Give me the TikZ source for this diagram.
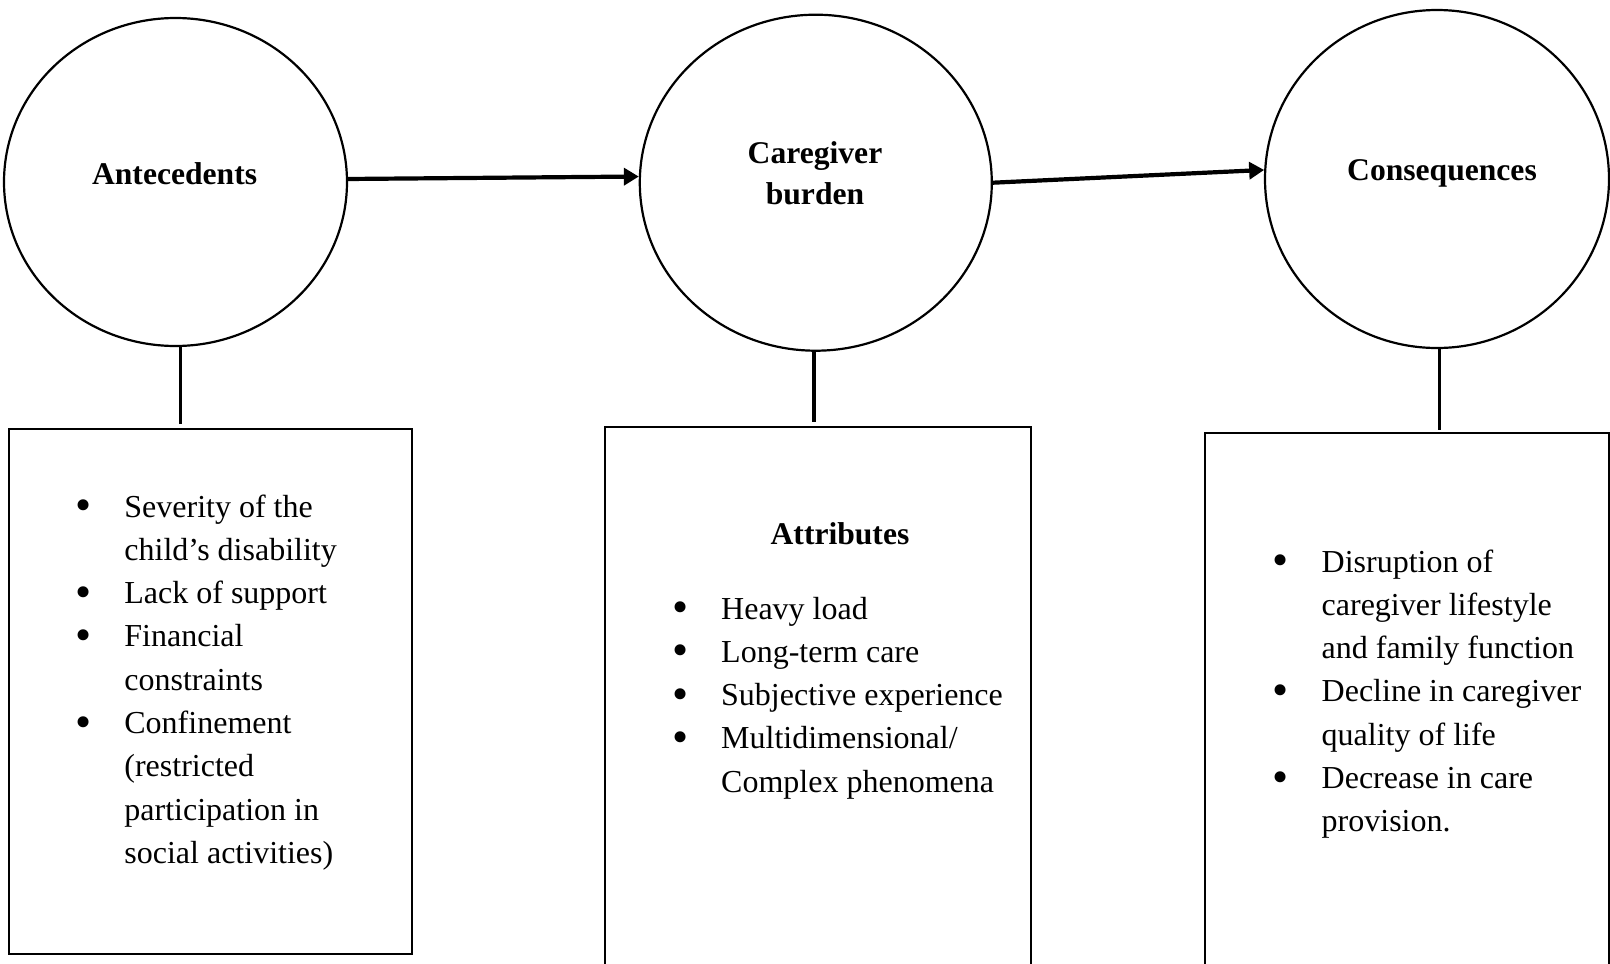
\documentclass[tikz,border=0pt]{standalone}
\usepackage{fontspec}
\setmainfont{Liberation Serif}
\usetikzlibrary{shapes.geometric,arrows.meta}
\newcommand{\bul}{\leavevmode\llap{\raisebox{-3.5pt}{\fontsize{46}{46}\selectfont\textbullet}\hspace{33pt}}}
\begin{document}
\begin{tikzpicture}[x=1pt,y=-1pt,
 circ/.style={draw, line width=2.2pt, ellipse, inner sep=0pt},
 boxn/.style={draw, line width=2pt, rectangle, inner sep=0pt, anchor=north west},
 conn/.style={line width=3.5pt},
 arr/.style={line width=4.2pt, -{Triangle[length=15pt,width=17pt]}},
 lab/.style={font=\fontsize{31.6}{41}\selectfont\bfseries, inner sep=0pt, anchor=base},
 body/.style={inner sep=0pt, anchor=base west, font=\fontsize{32}{43.3}\selectfont}]
\clip (0,0) rectangle (1610,964);
% circles
\node[circ, minimum width=343pt, minimum height=328pt] (c1) at (175.5,182) {};
\node[circ, minimum width=352pt, minimum height=336pt] (c2) at (815.8,182.7) {};
\node[circ, minimum width=344pt, minimum height=338pt] (c3) at (1437,179) {};
% labels
\node[lab] (l1) at (174.6,184.8) {Antecedents};
\node[lab] (l2) at (815,163) {\parbox[t]{200pt}{\centering Caregiver\\burden}};
\node[lab] (l3) at (1442,180.7) {Consequences};
% boxes
\node[boxn, minimum width=402.5pt, minimum height=525pt] (b1) at (8.2,428) {};
\node[boxn, minimum width=426pt, minimum height=560pt] (b2) at (603.8,426) {};
\node[boxn, minimum width=403.6pt, minimum height=560pt] (b3) at (1204.4,432) {};
% arrows
\draw[arr] (c1.1.1) -- (c2.178.7);
\draw[arr] (c2.0.6) -- (c3.177.2);
% vertical connectors
\draw[conn] ([xshift=5pt]c1.south) -- ([xshift=5pt,yshift=4pt]c1.south |- b1.north);
\draw[conn] ([xshift=-2pt]c2.south) -- ([xshift=-2pt,yshift=4pt]c2.south |- b2.north);
\draw[conn] ([xshift=2.5pt]c3.south) -- ([xshift=2.5pt,yshift=2pt]c3.south |- b3.north);
% box texts
\node[body] (t1) at (124.2,517) {\parbox[t]{300pt}{\raggedright
\bul Severity of the\\
child’s disability\\
\bul Lack of support\\
\bul Financial\\
constraints\\
\bul Confinement\\
(restricted\\
participation in\\
social activities)}};
\node[lab] (at) at (840,544) {Attributes};
\node[body] (t2) at (721,619) {\parbox[t]{320pt}{\raggedright
\bul Heavy load\\
\bul Long-term care\\
\bul Subjective experience\\
\bul Multidimensional/\\
Complex phenomena}};
\node[body] (t3) at (1321.5,572) {\parbox[t]{300pt}{\raggedright
\bul Disruption of\\
caregiver lifestyle\\
and family function\\
\bul Decline in caregiver\\
quality of life\\
\bul Decrease in care\\
provision.}};
\end{tikzpicture}
\end{document}
